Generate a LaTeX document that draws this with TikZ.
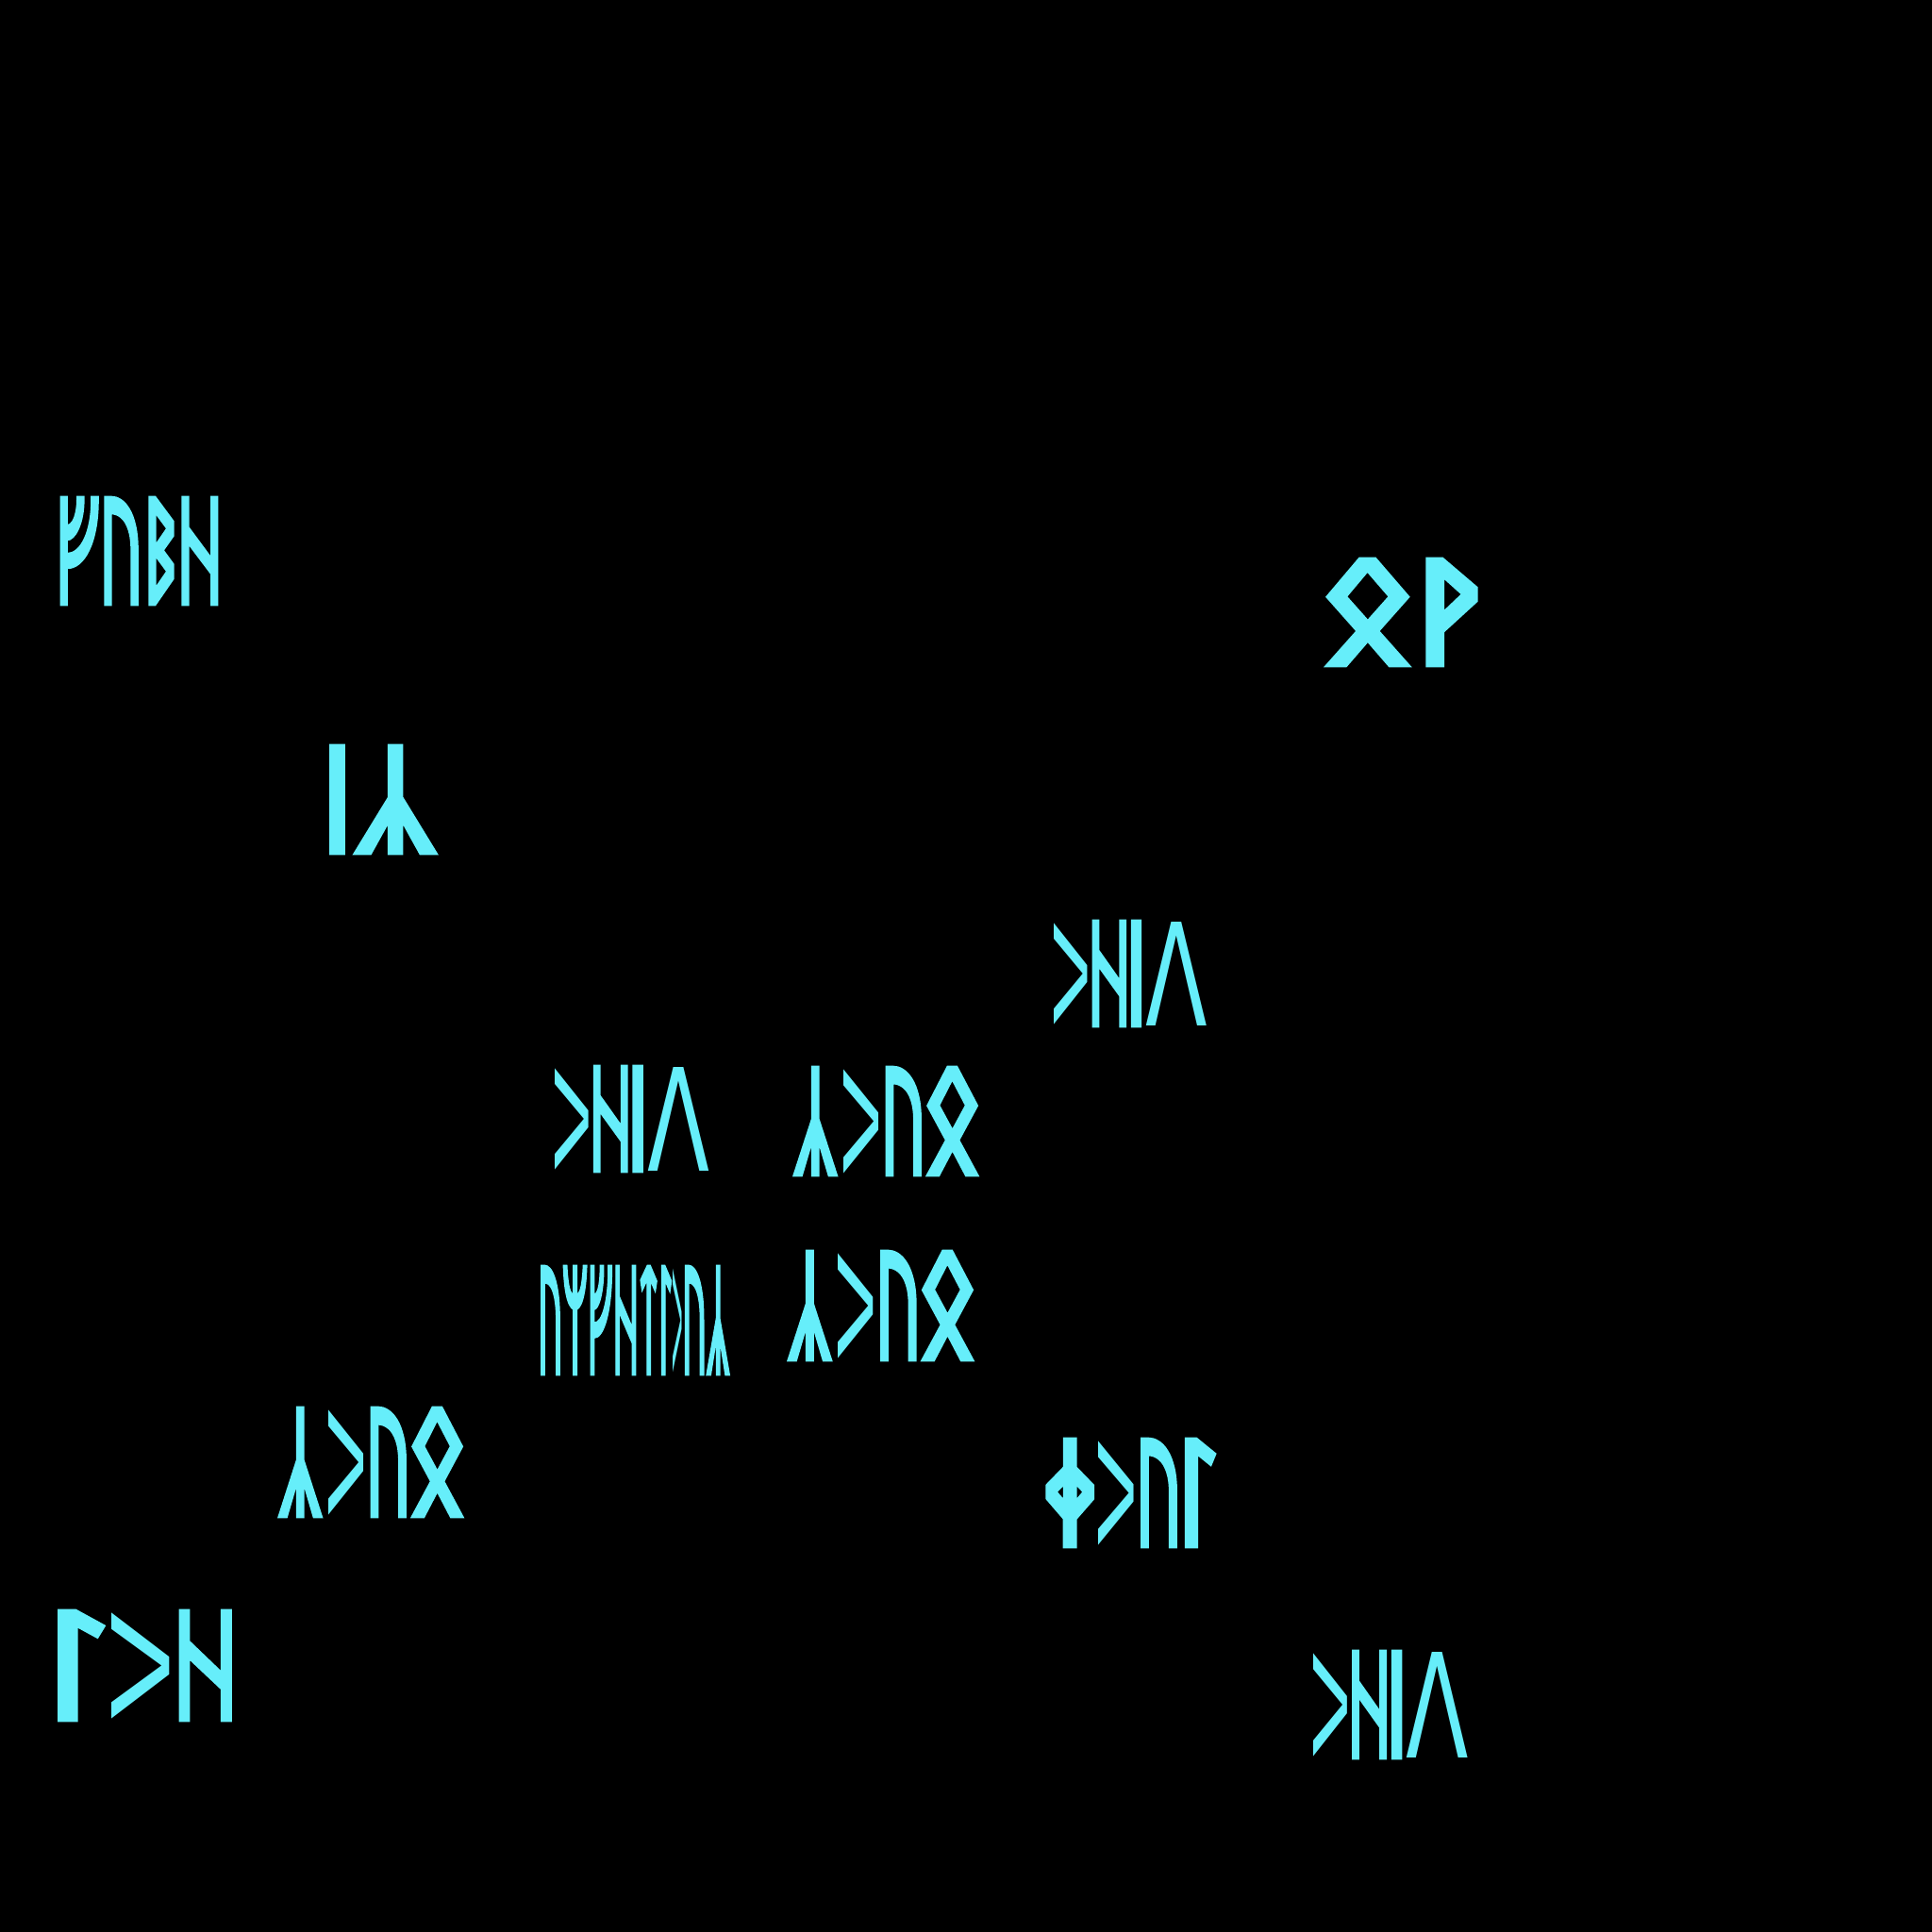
\documentclass[tikz,border=0pt]{standalone}
\usepackage{fontspec}
\usepackage{graphicx}
\IfFontExistsTF{Noto Sans Runic}{\newfontfamily\runefont[FakeBold=3]{Noto Sans Runic}}{\newfontfamily\runefont[FakeBold=3]{DejaVu Sans}}
\newfontfamily\grkfont{DejaVu Sans}
\definecolor{runecyan}{RGB}{102,238,250}
\newsavebox\wordbox
\newsavebox\ibox
% angle-shaped rune (">"), at rune height; #1 = width in rune heights
\newcommand{\rk}[1][0.34]{\sbox\ibox{ᛁ}\resizebox{#1\ht\ibox}{\ht\ibox}{\raisebox{\depth}{\rotatebox{-90}{\grkfont Λ}}}}
% inverted algiz
\newcommand{\ry}{\rotatebox[origin=c]{180}{ᛉ}}
% lambda-shaped rune, at rune height
\newcommand{\rl}[1][0.55]{\sbox\ibox{ᛁ}\resizebox{#1\ht\ibox}{\ht\ibox}{\grkfont Λ}}
% horizontal squeeze/stretch of one rune, and kerning in rune heights
\newcommand{\sx}[2]{\scalebox{#1}[1]{#2}}
\newcommand{\K}[1]{\sbox\ibox{ᛁ}\kern#1\ht\ibox}
\newcommand{\fitword}[3]{\sbox\wordbox{\runefont\fontsize{40}{40}\selectfont #3}%
  \resizebox{#1cm}{#2cm}{\usebox\wordbox}}
\begin{document}
\begin{tikzpicture}
\tikzset{rune/.style={anchor=base west, inner sep=0pt, outer sep=0pt, text=runecyan}}
\fill[black] (0,0) rectangle (20.48,-20.48);
\useasboundingbox (0,0) rectangle (20.48,-20.48);
\node[rune] (wA)  at (0.58,-6.40)  {\fitword{1.79}{1.12}{ᚠᚢᛒᚺ}};
\node[rune] (wB)  at (3.38,-9.04)  {\fitword{1.23}{1.13}{ᛁ\ry}};
\node[rune] (wE)  at (14.02,-7.05) {\fitword{1.68}{1.12}{ᛟᚹ}};
\node[rune] (wC1) at (11.17,-10.87) {\fitword{1.63}{1.10}{\rk[0.54]\sx{0.7}{ᚺ}\K{-0.12}ᛁ\K{-0.05}\rl[1.0]}};
\node[rune] (wC2) at (5.88,-12.41) {\fitword{1.64}{1.10}{\rk[0.54]\sx{0.7}{ᚺ}\K{-0.12}ᛁ\K{-0.05}\rl[1.0]}};
\node[rune] (wC3) at (13.92,-18.63) {\fitword{1.65}{1.12}{\rk[0.54]\sx{0.7}{ᚺ}\K{-0.12}ᛁ\K{-0.05}\rl[1.0]}};
\node[rune] (wD1) at (8.42,-12.45) {\fitword{1.97}{1.13}{\sx{0.79}{\ry}\K{0.12}\rk[0.56]\K{0.02}\sx{0.78}{ᚢ}\K{-0.03}\sx{1.09}{ᛟ}}};
\node[rune] (wD2) at (8.36,-14.41) {\fitword{1.98}{1.14}{\sx{0.79}{\ry}\K{0.12}\rk[0.56]\K{0.02}\sx{0.78}{ᚢ}\K{-0.03}\sx{1.09}{ᛟ}}};
\node[rune] (wD3) at (2.96,-16.07) {\fitword{1.97}{1.14}{\sx{0.79}{\ry}\K{0.12}\rk[0.56]\K{0.02}\sx{0.78}{ᚢ}\K{-0.03}\sx{1.09}{ᛟ}}};
\node[rune] (wH)  at (5.70,-14.56) {\fitword{2.03}{1.13}{ᚢᛘᚠᚺᛏᛚ\rk ᚢ\ry}};
\node[rune] (wF)  at (11.04,-16.39) {\fitword{1.88}{1.13}{\sx{1.32}{ᛄ}\rk[0.56]\K{0.02}\sx{0.78}{ᚢ}\K{-0.1}\sx{1.22}{ᛚ}}};
\node[rune] (wG)  at (0.47,-18.23) {\fitword{2.07}{1.15}{\sx{1.8}{ᛚ}\K{0.03}\rk[0.89]\K{0.03}\sx{1.03}{ᚺ}}};
\end{tikzpicture}
\end{document}
